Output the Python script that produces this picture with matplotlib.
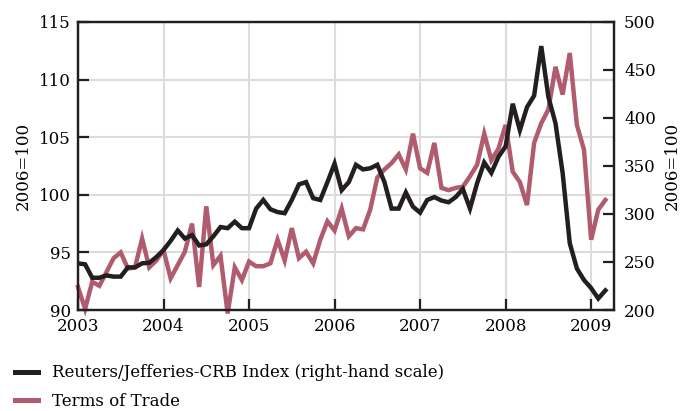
import numpy as np
import matplotlib.pyplot as plt

# monthly, Jan 2003 .. Mar 2009
start_year = 2003
# Reuters/Jefferies-CRB Index (right-hand scale)
crb = [248.6, 247.6, 233.6, 233.6, 236.0, 234.8, 234.8, 244.4, 244.4, 248.6, 249.2, 255.2,
       262.4, 272.0, 282.8, 274.4, 278.0, 267.2, 268.4, 276.8, 286.4, 285.2, 292.0, 285.2,
       285.2, 305.6, 314.6, 304.9, 302.0, 300.8, 314.6, 330.8, 333.2, 316.4, 314.6, 333.2,
       352.4, 324.8, 333.2, 351.2, 346.4, 347.6, 351.2, 333.2, 305.6, 305.6, 322.4, 307.6,
       301.4, 314.6, 317.6, 314.0, 312.2, 317.6, 326.0, 305.6, 332.0, 353.6, 342.8, 359.6,
       370.4, 414.8, 387.2, 411.2, 423.2, 474.8, 422.0, 394.4, 342.8, 269.6, 243.2, 231.2,
       222.8, 212.0, 220.4]
# Terms of Trade (left scale)
tot = [92.0, 90.1, 92.45, 92.1, 93.3, 94.5, 95.0, 93.6, 93.7, 96.2, 93.7, 94.3,
       95.2, 92.75, 93.9, 95.06, 97.5, 92.0, 99.0, 93.9, 94.7, 89.7, 93.7, 92.6,
       94.2, 93.8, 93.8, 94.05, 96.1, 94.3, 97.1, 94.5, 95.06, 94.05, 96.1, 97.7,
       96.9, 98.8, 96.4, 97.1, 97.0, 98.7, 101.5, 102.2, 102.75, 103.5, 102.2, 105.3,
       102.3, 101.9, 104.5, 100.6, 100.4, 100.6, 100.7, 101.6, 102.6, 105.3, 103.0, 104.0,
       106.06, 102.0, 101.1, 99.1, 104.5, 106.2, 107.4, 111.1, 108.7, 112.3, 106.06, 103.9,
       96.1, 98.7, 99.55]
years = list(range(2003, 2010))
left_ticks = [90, 95, 100, 105, 110, 115]
right_ticks = [200, 250, 300, 350, 400, 450, 500]

t = start_year + np.arange(len(tot)) / 12.0

plt.rcParams['font.family'] = ['DejaVu Serif']
black = '#231f20'
rose = '#b15b6f'
grid = '#dcdcdc'
fs = 12

fig = plt.figure(figsize=(6.84, 4.11), dpi=100)
ax = fig.add_axes([0.114, 0.2457, 0.784, 0.701])
ax2 = ax.twinx()

ax.plot(t, tot, color=rose, lw=3.2, solid_joinstyle='miter', clip_on=False)
ax2.plot(t, crb, color=black, lw=3.2, solid_joinstyle='miter')

ax.set_xlim(2003, 2009.27)
ax.set_ylim(90, 115)
ax2.set_ylim(200, 500)
ax.set_xticks(years)
ax.set_yticks(left_ticks)
ax2.set_yticks(right_ticks)

ax.grid(True, color=grid, lw=1.5)
ax.set_axisbelow(True)

for a in (ax, ax2):
    for s in a.spines.values():
        s.set_linewidth(1.6)
        s.set_color(black)
ax.tick_params(axis='both', direction='in', length=8, width=1.6, labelsize=fs, color=black)
ax.tick_params(axis='x', pad=6)
ax.tick_params(axis='y', pad=5)
ax2.tick_params(axis='y', direction='in', length=8, width=1.6, labelsize=fs, pad=7, color=black)

ax.set_ylabel('2006=100', fontsize=fs, labelpad=5)
ax2.set_ylabel('2006=100', fontsize=fs, rotation=90, labelpad=6)

h1, = ax.plot([], [], color=black, lw=3.6)
h2, = ax.plot([], [], color=rose, lw=3.6)
fig.legend([h1, h2], ['Reuters/Jefferies-CRB Index (right-hand scale)', 'Terms of Trade'],
           loc='upper left', bbox_to_anchor=(0.0, 0.15), frameon=False,
           fontsize=fs, handlelength=1.4, handletextpad=0.8, labelspacing=0.7)

fig.savefig('out.png', dpi=100)
